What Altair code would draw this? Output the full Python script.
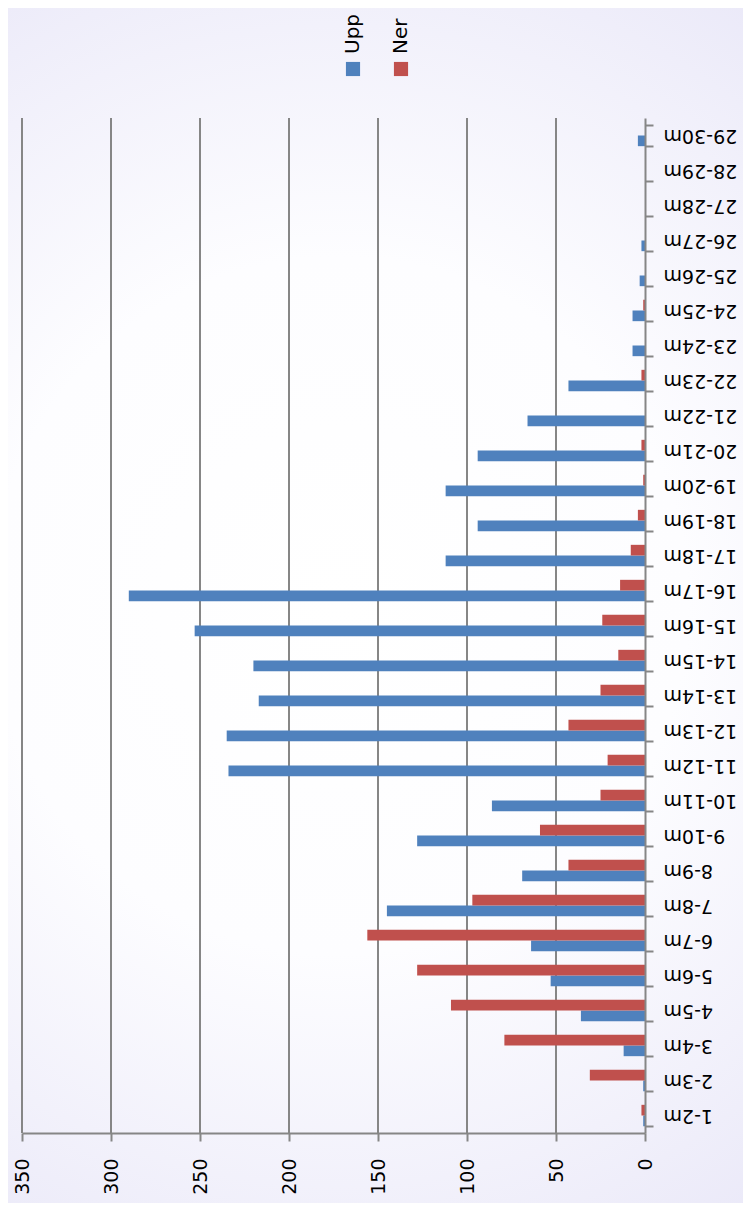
import altair as alt
import pandas as pd

categories = ["1-2m", "2-3m", "3-4m", "4-5m", "5-6m", "6-7m", "7-8m", "8-9m", "9-10m",
              "10-11m", "11-12m", "12-13m", "13-14m", "14-15m", "15-16m", "16-17m",
              "17-18m", "18-19m", "19-20m", "20-21m", "21-22m", "22-23m", "23-24m",
              "24-25m", "25-26m", "26-27m", "27-28m", "28-29m", "29-30m"]
upp = [1, 1, 12, 36, 53, 64, 145, 69, 128, 86, 234, 235, 217, 220, 253, 290,
       112, 94, 112, 94, 66, 43, 7, 7, 3, 2, 0, 0, 4]
ner = [2, 31, 79, 109, 128, 156, 97, 43, 59, 25, 21, 43, 25, 15, 24, 14,
       8, 4, 1, 2, 0, 2, 0, 1, 0, 0, 0, 0, 0]
series = ["Upp", "Ner"]
colors = ["#4f81bd", "#c0504d"]
x_ticks = [0, 50, 100, 150, 200, 250, 300, 350]

rows = []
for c, u, n in zip(categories, upp, ner):
    rows.append({"cat": c, "series": "Upp", "value": u})
    rows.append({"cat": c, "series": "Ner", "value": n})
df = pd.DataFrame(rows)

FONT = "DejaVu Sans"
GREY = "#868686"
W, H = 623, 1015
xscale = alt.Scale(domain=[0, 350], reverse=True, nice=False)

bg = alt.Chart(pd.DataFrame({"a": [0]})).mark_rect(
    color=alt.Gradient(
        gradient="radial", x1=0.47, y1=0.5, r1=0.0, x2=0.47, y2=0.5, r2=0.72,
        stops=[alt.GradientStop(color="#ffffff", offset=0.0),
               alt.GradientStop(color="#fdfdff", offset=0.4),
               alt.GradientStop(color="#e4e2f6", offset=1.0)]
    )
).encode(x=alt.value(-22), x2=alt.value(751 - 22), y=alt.value(-118), y2=alt.value(1211 - 118))

grid = alt.Chart(pd.DataFrame({"t": x_ticks[1:]})).mark_rule(color=GREY, strokeWidth=2).encode(
    x=alt.X("t:Q", scale=xscale, axis=None),
)

bars = alt.Chart(df).mark_bar().encode(
    y=alt.Y("cat:N", sort=list(reversed(categories)),
            scale=alt.Scale(paddingInner=0.39, paddingOuter=0.195),
            axis=alt.Axis(orient="right", title=None, labelAngle=180, labelAlign="right",
                          labelBaseline="middle", labelFont=FONT, labelFontSize=19,
                          labelColor="#000000", labelPadding=10, tickBand="extent",
                          tickSize=8, tickColor=GREY, tickWidth=2, domainColor=GREY,
                          domainWidth=2, grid=False, zindex=1)),
    yOffset=alt.YOffset("series:N", sort=["Ner", "Upp"]),
    x=alt.X("value:Q", scale=xscale,
            axis=alt.Axis(orient="bottom", title=None, values=x_ticks, labelAngle=-90,
                          labelAlign="right", labelBaseline="middle", labelFont=FONT,
                          labelFontSize=19, labelColor="#000000", labelPadding=17,
                          tickSize=8, tickColor=GREY, tickWidth=2, domainColor=GREY,
                          domainWidth=2, grid=False, zindex=1)),
    color=alt.Color("series:N", scale=alt.Scale(domain=series, range=colors), legend=None),
)

leg_df = pd.DataFrame({"series": series, "i": [0, 1]})
leg_sym = alt.Chart(leg_df).mark_square(size=200, opacity=1, filled=True).encode(
    x=alt.X("i:Q", scale=alt.Scale(domain=[0, 1], range=[331, 379]), axis=None),
    y=alt.value(-49),
    color=alt.Color("series:N", scale=alt.Scale(domain=series, range=colors), legend=None),
)
leg_txt = alt.Chart(leg_df).mark_text(angle=270, align="left", baseline="middle",
                                      font=FONT, fontSize=20, color="#000000").encode(
    x=alt.X("i:Q", scale=alt.Scale(domain=[0, 1], range=[331, 379]), axis=None),
    y=alt.value(-64),
    text="series:N",
)

chart = alt.layer(bg, grid, bars, leg_sym, leg_txt).resolve_scale(x="independent").properties(
    width=W, height=H,
    autosize=alt.AutoSizeParams(type="none"),
    padding={"left": 14, "top": 110, "right": 98, "bottom": 70},
    background="#e8e6f7",
).configure_view(stroke=None)

chart.save("out.html", embed_options={"renderer": "svg", "actions": False})
